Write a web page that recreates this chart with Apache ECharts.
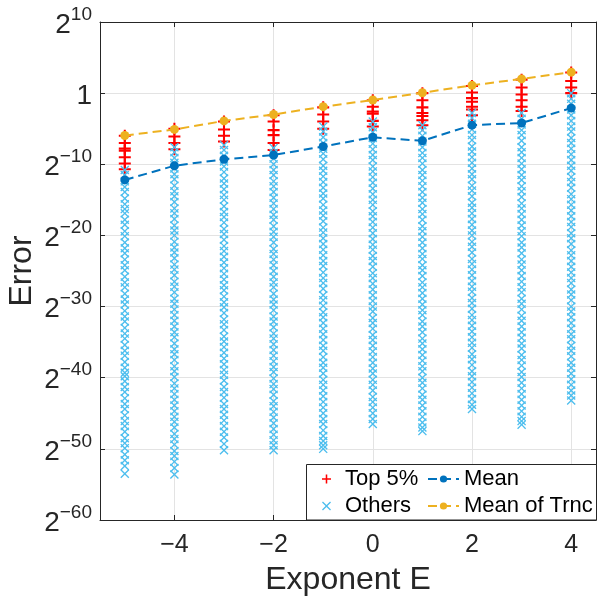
<!DOCTYPE html>
<html>
<head>
<meta charset="utf-8">
<script src="https://cdn.jsdelivr.net/npm/echarts@6/dist/echarts.min.js"></script>
<style>
  html, body { margin: 0; padding: 0; background: #fff; }
  #chart { width: 597px; height: 600px; }
</style>
</head>
<body>
<div id="chart"></div>
<script>
// Exponent values on the x axis
const exponents = [-5, -4, -3, -2, -1, 0, 1, 2, 3, 4];

// log2 of the error: mean over all samples, and mean of the truncated set
const meanLog2 = [-12.2, -10.2, -9.3, -8.7, -7.5, -6.2, -6.7, -4.5, -4.2, -2.1];
const truncMeanLog2 = [-5.95, -5.1, -3.9, -3.0, -1.9, -0.97, 0.05, 1.1, 2.0, 2.95];

// log2 of the largest 5% of errors, per exponent
const top5_m5 = [-6.0, -7.0, -7.8, -8.1, -9.0, -9.9, -10.7];
const top5_m4 = [-5.0, -6.1, -7.0, -7.9];
const top5_m3 = [-4.0, -5.1, -6.0, -6.8];
const top5_m2 = [-3.1, -4.0, -5.2, -5.9, -7.0, -8.0];
const top5_m1 = [-2.0, -3.0, -4.0, -5.0];
const top5_0 = [-1.0, -1.9, -2.6, -2.9, -3.9, -4.7];
const top5_1 = [0.0, -1.0, -2.0, -2.8, -3.2, -3.8, -4.5];
const top5_2 = [1.0, 0.1, -0.7, -1.2, -1.9, -2.3, -3.1];
const top5_3 = [1.9, 0.8, -0.2, -1.0, -1.9, -2.5];
const top5_4 = [2.9, 1.7, 0.8, 0.0];

// log2 of the remaining errors, per exponent
const others_m5 = [-10.8,-11.5,-12.4,-13.2,-13.9,-14.8,-15.6,-16.3,-16.9,-17.8,-18.5,-19.4,-20.1,-21.0,-21.8,-22.5,-23.4,-24.2,-24.9,-25.8,-26.6,-27.3,-28.2,-29.0,-29.7,-30.6,-31.4,-32.1,-33.0,-33.8,-34.5,-35.4,-36.2,-36.9,-37.8,-38.6,-39.3,-39.8,-40.5,-41.3,-42.0,-42.9,-43.7,-44.4,-45.3,-46.1,-46.8,-47.6,-48.5,-49.2,-49.9,-50.8,-51.6,-52.4,-53.5];
const others_m4 = [-7.6,-8.3,-9.1,-9.8,-10.6,-11.4,-12.1,-13.0,-13.8,-14.5,-15.3,-16.2,-16.9,-17.7,-18.6,-19.3,-20.0,-20.9,-21.7,-22.4,-23.2,-24.1,-24.8,-25.6,-26.5,-27.2,-28.0,-28.9,-29.6,-30.4,-31.2,-32.0,-32.8,-33.6,-34.3,-35.2,-36.0,-36.7,-37.5,-38.4,-39.1,-39.9,-40.8,-41.5,-42.3,-43.1,-43.9,-44.7,-45.5,-46.2,-47.0,-47.9,-48.6,-49.4,-50.3,-51.0,-51.8,-52.7,-53.6];
const others_m3 = [-7.3,-8.0,-8.8,-9.6,-10.3,-11.1,-12.0,-12.7,-13.5,-14.3,-15.0,-15.9,-16.7,-17.4,-18.2,-19.1,-19.8,-20.6,-21.5,-22.2,-23.0,-23.8,-24.6,-25.4,-26.2,-27.0,-27.7,-28.6,-29.4,-30.1,-30.9,-31.8,-32.5,-33.3,-34.2,-34.9,-35.7,-36.5,-37.3,-38.1,-38.9,-39.6,-40.4,-41.3,-42.0,-42.8,-43.7,-44.4,-45.2,-46.0,-46.8,-47.6,-48.4,-49.3,-50.2];
const others_m2 = [-7.7,-8.4,-9.2,-10.0,-10.8,-11.5,-12.4,-13.1,-13.9,-14.7,-15.5,-16.3,-17.1,-17.8,-18.7,-19.5,-20.2,-21.0,-21.9,-22.6,-23.4,-24.2,-25.0,-25.8,-26.6,-27.3,-28.2,-29.0,-29.7,-30.5,-31.4,-32.1,-32.9,-33.8,-34.5,-35.3,-36.1,-36.9,-37.7,-38.5,-39.2,-40.1,-40.9,-41.6,-42.4,-43.3,-44.0,-44.8,-45.6,-46.4,-47.2,-48.0,-48.8,-49.5,-50.2];
const others_m1 = [-4.7,-5.4,-6.2,-7.0,-7.8,-8.5,-9.3,-10.2,-10.9,-11.7,-12.5,-13.3,-14.1,-14.8,-15.7,-16.5,-17.2,-18.0,-18.9,-19.6,-20.4,-21.2,-22.0,-22.8,-23.6,-24.3,-25.2,-26.0,-26.7,-27.5,-28.4,-29.1,-29.9,-30.8,-31.5,-32.3,-33.1,-33.9,-34.7,-35.5,-36.2,-37.1,-37.9,-38.6,-39.4,-40.3,-41.0,-41.8,-42.6,-43.4,-44.2,-45.0,-45.8,-46.5,-47.4,-48.2,-48.9,-49.5,-50.0];
const others_0 = [-4.0,-4.8,-5.5,-6.3,-7.1,-7.9,-8.7,-9.4,-10.3,-11.0,-11.8,-12.6,-13.4,-14.2,-15.0,-15.7,-16.6,-17.3,-18.1,-18.9,-19.7,-20.5,-21.3,-22.0,-22.9,-23.6,-24.4,-25.3,-26.0,-26.8,-27.6,-28.4,-29.2,-30.0,-30.7,-31.6,-32.3,-33.1,-34.0,-34.7,-35.5,-36.3,-37.1,-37.9,-38.7,-39.4,-40.3,-41.0,-41.8,-42.7,-43.4,-44.2,-45.0,-45.8,-46.5];
const others_1 = [-4.5,-5.2,-6.0,-6.8,-7.6,-8.4,-9.1,-9.9,-10.8,-11.5,-12.3,-13.1,-13.9,-14.7,-15.4,-16.3,-17.0,-17.8,-18.7,-19.4,-20.2,-21.0,-21.8,-22.6,-23.3,-24.2,-24.9,-25.7,-26.6,-27.3,-28.1,-28.9,-29.7,-30.5,-31.2,-32.1,-32.8,-33.6,-34.5,-35.2,-36.0,-36.8,-37.6,-38.4,-39.1,-40.0,-40.7,-41.5,-42.4,-43.1,-43.9,-44.7,-45.5,-46.3,-47.0,-47.5];
const others_2 = [-2.8,-3.5,-4.3,-5.1,-5.9,-6.6,-7.5,-8.2,-9.0,-9.8,-10.6,-11.4,-12.1,-13.0,-13.7,-14.5,-15.4,-16.1,-16.9,-17.7,-18.5,-19.3,-20.0,-20.9,-21.6,-22.4,-23.3,-24.0,-24.8,-25.6,-26.4,-27.2,-27.9,-28.8,-29.5,-30.3,-31.2,-31.9,-32.7,-33.5,-34.3,-35.1,-35.8,-36.7,-37.4,-38.2,-39.1,-39.8,-40.6,-41.4,-42.2,-43.0,-43.8,-44.4];
const others_3 = [-2.8,-3.6,-4.4,-5.2,-5.9,-6.7,-7.6,-8.3,-9.1,-9.9,-10.7,-11.5,-12.2,-13.1,-13.8,-14.6,-15.5,-16.2,-17.0,-17.8,-18.6,-19.4,-20.1,-21.0,-21.7,-22.5,-23.4,-24.1,-24.9,-25.7,-26.5,-27.3,-28.0,-28.9,-29.6,-30.4,-31.3,-32.0,-32.8,-33.6,-34.4,-35.2,-35.9,-36.8,-37.5,-38.3,-39.2,-39.9,-40.7,-41.5,-42.3,-43.1,-43.9,-44.7,-45.5,-46.1,-46.6];
const others_4 = [0.0,-0.8,-1.5,-2.3,-3.1,-3.9,-4.7,-5.4,-6.3,-7.0,-7.8,-8.6,-9.4,-10.2,-10.9,-11.8,-12.5,-13.3,-14.2,-14.9,-15.7,-16.5,-17.3,-18.1,-18.8,-19.7,-20.4,-21.2,-22.1,-22.8,-23.6,-24.4,-25.2,-26.0,-26.7,-27.6,-28.3,-29.1,-30.0,-30.7,-31.5,-32.3,-33.1,-33.9,-34.6,-35.5,-36.2,-37.0,-37.9,-38.6,-39.4,-40.2,-41.0,-41.8,-42.5,-43.2];

// Axis ticks
const xTickValues = [-4, -2, 0, 2, 4];

const top5Columns = [top5_m5, top5_m4, top5_m3, top5_m2, top5_m1, top5_0, top5_1, top5_2, top5_3, top5_4];
const otherColumns = [others_m5, others_m4, others_m3, others_m2, others_m1, others_0, others_1, others_2, others_3, others_4];

function toPoints(columns) {
  const pts = [];
  columns.forEach((col, i) => col.forEach(v => pts.push([exponents[i], v])));
  return pts;
}

// Marker shapes: a plus and a diagonal cross, drawn as filled outlines
const plusPath = 'path://M4.15,0H5.85V10H4.15Z M0,4.15H10V5.85H0Z';
const crossPath = 'path://M0,1.05L1.05,0L5,3.95L8.95,0L10,1.05L6.05,5L10,8.95L8.95,10L5,6.05L1.05,10L0,8.95L3.95,5Z';

const FONT = '"Liberation Sans", Arial, Helvetica, sans-serif';
const INK = '#262626';
const GRID = '#E3E3E3';

function yLabel(v) {
  if (v === 0) return '{b|1}';
  return '{b|2}{s|' + (v < 0 ? '\u2212' : '') + Math.abs(v) + '}';
}

const chart = echarts.init(document.getElementById('chart'), null, { renderer: 'canvas' });

chart.setOption({
  animation: false,
  backgroundColor: '#fff',
  grid: { left: 100, right: 1, top: 22, bottom: 80, containLabel: false, outerBoundsMode: 'none' },
  xAxis: [
    {
      type: 'value', min: -5.5, max: 4.5, position: 'bottom',
      name: 'Exponent E', nameLocation: 'middle', nameGap: 44, nameMoveOverlap: false,
      nameTextStyle: { fontFamily: FONT, fontSize: 32, color: INK },
      axisLine: { show: true, onZero: false, lineStyle: { color: INK, width: 1 } },
      axisTick: { show: true, inside: true, length: 5, customValues: xTickValues, lineStyle: { color: INK } },
      axisLabel: {
        customValues: xTickValues, margin: 13, fontFamily: FONT, fontSize: 25, color: INK,
        formatter: v => (v < 0 ? '\u2212' : '') + Math.abs(v)
      },
      splitLine: { show: true, lineStyle: { color: GRID, width: 1 } }
    },
    {
      type: 'value', min: -5.5, max: 4.5, position: 'top',
      axisLine: { show: true, onZero: false, lineStyle: { color: INK, width: 1 } },
      axisTick: { show: true, inside: true, length: 5, customValues: xTickValues, lineStyle: { color: INK } },
      axisLabel: { show: false },
      splitLine: { show: false }
    }
  ],
  yAxis: [
    {
      type: 'value', min: -60, max: 10, interval: 10, position: 'left',
      name: 'Error', nameLocation: 'middle', nameGap: 62, nameRotate: 90, nameMoveOverlap: false,
      nameTextStyle: { fontFamily: FONT, fontSize: 32, color: INK },
      axisLine: { show: true, onZero: false, lineStyle: { color: INK, width: 1 } },
      axisTick: { show: true, inside: true, length: 5, lineStyle: { color: INK } },
      axisLabel: {
        margin: 8, fontFamily: FONT, color: INK, formatter: yLabel,
        rich: {
          b: { fontFamily: FONT, fontSize: 28, color: INK, lineHeight: 34, verticalAlign: 'bottom' },
          s: { fontFamily: FONT, fontSize: 19, color: INK, lineHeight: 34, verticalAlign: 'top' }
        }
      },
      splitLine: { show: true, lineStyle: { color: GRID, width: 1 } }
    },
    {
      type: 'value', min: -60, max: 10, interval: 10, position: 'right',
      axisLine: { show: true, onZero: false, lineStyle: { color: INK, width: 1 } },
      axisTick: { show: true, inside: true, length: 5, lineStyle: { color: INK } },
      axisLabel: { show: false },
      splitLine: { show: false }
    }
  ],
  legend: [
    {
      data: ['Top 5%', 'Others'], orient: 'vertical', left: 322, top: 468, padding: 0,
      itemWidth: 9, itemHeight: 9, itemGap: 5,
      textStyle: { fontFamily: FONT, fontSize: 22, color: '#000', padding: [0, 0, 0, 9] },
      z: 5
    },
    {
      data: ['Mean', 'Mean of Trnc'], orient: 'vertical', left: 427, top: 468, padding: 0,
      itemWidth: 31, itemHeight: 9, itemGap: 5,
      textStyle: { fontFamily: FONT, fontSize: 22, color: '#000' },
      z: 5
    }
  ],
  graphic: [
    {
      type: 'rect', z: 4, silent: true,
      shape: { x: 306.5, y: 464.5, width: 290, height: 55.5 },
      style: { fill: '#fff', stroke: INK, lineWidth: 1 }
    }
  ],
  series: [
    {
      name: 'Top 5%', type: 'scatter', data: toPoints(top5Columns),
      symbol: plusPath, symbolSize: 12,
      itemStyle: { color: '#FF0000', opacity: 1 }, z: 2
    },
    {
      name: 'Others', type: 'scatter', data: toPoints(otherColumns),
      symbol: crossPath, symbolSize: 9,
      itemStyle: { color: '#4DBEEE', opacity: 1 }, z: 2
    },
    {
      name: 'Mean', type: 'line', data: exponents.map((e, i) => [e, meanLog2[i]]),
      symbol: 'circle', symbolSize: 9, showSymbol: true,
      lineStyle: { color: '#0072BD', width: 2, type: [9, 5] },
      itemStyle: { color: '#0072BD' }, z: 3
    },
    {
      name: 'Mean of Trnc', type: 'line', data: exponents.map((e, i) => [e, truncMeanLog2[i]]),
      symbol: 'circle', symbolSize: 9, showSymbol: true,
      lineStyle: { color: '#EDB120', width: 2, type: [9, 5] },
      itemStyle: { color: '#EDB120' }, z: 3
    }
  ]
});
</script>
</body>
</html>
